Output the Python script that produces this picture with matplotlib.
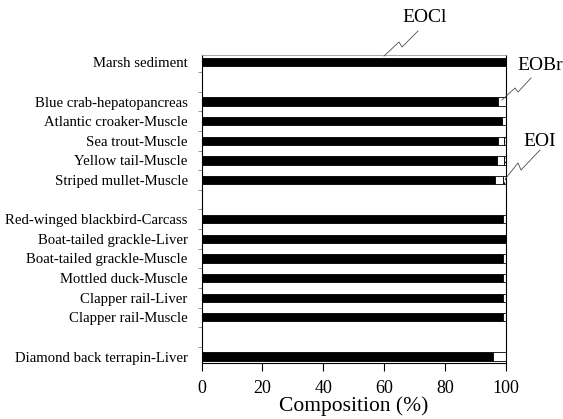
import numpy as np
import matplotlib
matplotlib.use('Agg')
import matplotlib.pyplot as plt

plt.rcParams['font.family'] = ['Liberation Serif', 'DejaVu Serif']

# Samples, listed top to bottom, split into groups (sediment, fish, birds, reptile)
groups = [
    ['Marsh sediment'],
    ['Blue crab-hepatopancreas', 'Atlantic croaker-Muscle', 'Sea trout-Muscle',
     'Yellow tail-Muscle', 'Striped mullet-Muscle'],
    ['Red-winged blackbird-Carcass', 'Boat-tailed grackle-Liver',
     'Boat-tailed grackle-Muscle', 'Mottled duck-Muscle', 'Clapper rail-Liver',
     'Clapper rail-Muscle'],
    ['Diamond back terrapin-Liver'],
]

# Composition (%) of extractable organic halogens
eocl = [100, 97.4, 98.7, 97.6, 97.3, 96.6, 99.0, 100, 99.3, 99.3, 99.0, 99.0, 95.8]
eobr = [0, 2.6, 1.3, 2.0, 2.2, 2.4, 1.0, 0, 0.7, 0.7, 1.0, 1.0, 4.2]
eoi = [0, 0, 0, 0.4, 0.5, 1.0, 0, 0, 0, 0, 0, 0, 0]

# Row positions with an empty row between groups
labels, pos = [], []
row = 0
for g in groups:
    for name in g:
        labels.append(name)
        pos.append(row)
        row += 1
    row += 1
pos = np.array(pos)

eocl = np.array(eocl)
eobr = np.array(eobr)
eoi = np.array(eoi)

fig = plt.figure(figsize=(5.63, 4.19), dpi=100)
ax = fig.add_axes([0.358, 0.134, 0.540, 0.735])

h = 0.42
ax.barh(pos, eocl, height=h, color='black', edgecolor='black', linewidth=0.6)
ax.barh(pos, eobr, left=eocl, height=h, color='white', edgecolor='black', linewidth=0.6)
ax.barh(pos, eoi, left=eocl + eobr, height=h, color='white', edgecolor='black',
        linewidth=0.6, hatch='....')

ax.set_xlim(0, 100)
ax.set_ylim(pos[-1] + 0.32, -0.38)
ax.set_xticks(np.arange(0, 101, 20))
ax.set_yticks(pos)
ax.set_yticklabels(labels, fontsize=10.6)
ax.set_yticks(np.arange(0.5, pos[-1], 1.0), minor=True)
ax.tick_params(axis='y', which='major', length=0, pad=10)
ax.tick_params(axis='y', which='minor', length=3, width=0.6, color='0.5')
ax.tick_params(axis='x', length=6, width=0.8, labelsize=13, pad=6)
ax.set_xlabel('Composition (%)', fontsize=15.5, labelpad=0)
for s in ax.spines.values():
    s.set_linewidth(0.8)
ax.spines['top'].set_color('0.6')
ax.spines['top'].set_linewidth(0.6)


# Labels with a broken leader line pointing at each component
def px(x, y):
    return (x / 563, 1 - y / 419)


def leader(text, tx, ty, pts):
    fig.text(*px(tx, ty), text, ha='center', va='center', fontsize=14)
    xs = [px(x, y)[0] for x, y in pts]
    ys = [px(x, y)[1] for x, y in pts]
    fig.add_artist(plt.Line2D(xs, ys, transform=fig.transFigure, color='0.3', lw=0.6))


leader('EOCl', 425, 18, [(418, 31), (402, 47), (399, 42), (384, 56)])
leader('EOBr', 540, 66, [(531, 78), (518, 92), (515, 88), (502, 100)])
leader('EOI', 540, 142, [(540, 150), (521, 170), (518, 163), (506, 178)])

fig.savefig('out.png', dpi=100)
